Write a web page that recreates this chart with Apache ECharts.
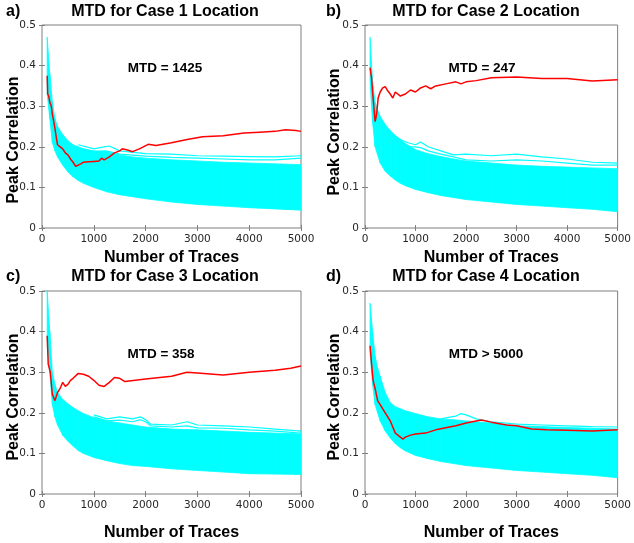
<!DOCTYPE html>
<html><head><meta charset="utf-8">
<script src="https://cdn.jsdelivr.net/npm/echarts@6/dist/echarts.min.js"></script>
<style>html,body{margin:0;padding:0;background:#fff}#c{width:634px;height:543px}</style>
</head><body><div id="c"></div>
<script>
// ---------- data ----------
const panelLetters = ['a)', 'b)', 'c)', 'd)'];
const panelTitles = ['MTD for Case 1 Location', 'MTD for Case 2 Location', 'MTD for Case 3 Location', 'MTD for Case 4 Location'];
const mtdLabels = ['MTD = 1425', 'MTD = 247', 'MTD = 358', 'MTD > 5000'];
const xAxisTitle = 'Number of Traces';
const yAxisTitle = 'Peak Correlation';
const xTicks = [0, 1000, 2000, 3000, 4000, 5000];
const yTicks = [0, 0.1, 0.2, 0.3, 0.4, 0.5];

// sample positions (number of traces) for the envelope of the wrong-key traces
const bandX = [100,150,200,250,300,400,500,600,700,800,1000,1250,1500,1750,2000,2500,3000,3500,4000,4500,5000];

// Panel a
const upperA = [0.47,0.38,0.31,0.27,0.25,0.23,0.215,0.205,0.2,0.195,0.19,0.188,0.18,0.175,0.172,0.168,0.165,0.162,0.160,0.158,0.156];
const lowerA = [0.33,0.27,0.21,0.19,0.175,0.155,0.138,0.126,0.117,0.11,0.10,0.089,0.082,0.077,0.072,0.064,0.058,0.054,0.050,0.047,0.044];
const outAX = [700,1000,1200,1300,1500,2000,2500,3000,3500,4000,4500,5000];
const outA1 = [0.205,0.195,0.2,0.202,0.19,0.183,0.182,0.178,0.177,0.176,0.175,0.178];
const outA2 = [0.195,0.188,0.19,0.188,0.182,0.177,0.174,0.172,0.17,0.168,0.168,0.172];
const redAX = [100,110,130,150,180,200,230,250,280,300,350,400,450,500,550,600,650,700,750,800,900,1000,1100,1150,1200,1300,1400,1500,1550,1650,1750,1900,2050,2200,2500,2800,3100,3500,3900,4200,4500,4700,4900,5000];
const redAY = [0.375,0.33,0.325,0.31,0.3,0.28,0.26,0.245,0.22,0.205,0.2,0.195,0.185,0.18,0.17,0.162,0.152,0.155,0.158,0.162,0.163,0.164,0.165,0.172,0.168,0.175,0.185,0.19,0.195,0.192,0.188,0.196,0.206,0.203,0.21,0.218,0.225,0.227,0.234,0.236,0.238,0.242,0.24,0.238];

// Panel b
const upperB = [0.47,0.36,0.31,0.29,0.275,0.255,0.24,0.228,0.218,0.208,0.193,0.183,0.176,0.17,0.165,0.16,0.155,0.152,0.15,0.148,0.146];
const lowerB = [0.36,0.26,0.20,0.18,0.16,0.14,0.128,0.118,0.11,0.104,0.095,0.087,0.08,0.075,0.07,0.064,0.058,0.054,0.05,0.046,0.04];
const outBX = [600,750,850,1000,1100,1250,1500,1750,2000,2500,3000,3500,4000,4500,5000];
const outB1 = [0.225,0.215,0.21,0.205,0.212,0.2,0.19,0.18,0.182,0.178,0.182,0.175,0.17,0.162,0.16];
const outB2 = [0.22,0.205,0.2,0.2,0.198,0.19,0.182,0.175,0.168,0.165,0.168,0.165,0.16,0.155,0.155];
const redBX = [100,130,160,200,230,260,300,350,400,450,500,550,600,700,800,900,1000,1100,1200,1300,1400,1600,1800,1900,2000,2200,2500,3000,3500,4000,4500,5000];
const redBY = [0.395,0.37,0.32,0.262,0.28,0.32,0.335,0.345,0.348,0.338,0.33,0.32,0.335,0.325,0.33,0.34,0.335,0.345,0.35,0.343,0.35,0.355,0.36,0.355,0.36,0.363,0.37,0.372,0.368,0.368,0.362,0.365];

// Panel c
const upperC = [0.5,0.40,0.30,0.27,0.25,0.233,0.222,0.213,0.205,0.198,0.188,0.18,0.175,0.17,0.165,0.16,0.158,0.155,0.152,0.15,0.148];
const lowerC = [0.38,0.30,0.22,0.19,0.17,0.145,0.13,0.118,0.107,0.1,0.09,0.082,0.075,0.07,0.068,0.062,0.058,0.054,0.05,0.049,0.048];
const outCX = [1000,1250,1500,1750,1900,2000,2100,2500,2800,3000,3500,4000,4500,5000];
const outC1 = [0.195,0.185,0.19,0.185,0.19,0.183,0.172,0.17,0.178,0.17,0.168,0.165,0.16,0.155];
const outC2 = [0.19,0.18,0.182,0.178,0.183,0.178,0.168,0.165,0.168,0.163,0.162,0.158,0.155,0.15];
const redCX = [100,120,160,200,250,300,350,400,450,500,550,600,700,800,900,1000,1100,1200,1300,1400,1500,1600,1800,2000,2500,2800,3000,3500,4000,4500,4800,5000];
const redCY = [0.39,0.32,0.3,0.245,0.23,0.25,0.26,0.275,0.265,0.27,0.28,0.285,0.297,0.295,0.29,0.28,0.268,0.265,0.275,0.287,0.285,0.277,0.28,0.283,0.29,0.3,0.298,0.293,0.3,0.305,0.31,0.315];

// Panel d
const upperD = [0.47,0.40,0.34,0.31,0.29,0.25,0.225,0.215,0.21,0.205,0.198,0.19,0.185,0.183,0.18,0.175,0.168,0.166,0.164,0.162,0.16];
const lowerD = [0.35,0.27,0.22,0.20,0.18,0.155,0.138,0.124,0.114,0.106,0.095,0.087,0.08,0.075,0.07,0.064,0.058,0.054,0.05,0.046,0.04];
const outDX = [1500,1700,1800,1900,2000,2100,2200,2500,3000,3500,4000,4500,5000];
const outD1 = [0.185,0.19,0.192,0.198,0.195,0.19,0.185,0.178,0.172,0.17,0.168,0.166,0.165];
const redDX = [100,130,160,200,250,300,400,500,600,700,750,800,900,1000,1200,1400,1600,1800,2000,2300,2500,2800,3000,3300,3600,4000,4500,5000];
const redDY = [0.365,0.32,0.28,0.26,0.23,0.22,0.2,0.18,0.15,0.14,0.135,0.14,0.145,0.148,0.15,0.158,0.163,0.168,0.175,0.182,0.177,0.17,0.168,0.16,0.158,0.157,0.155,0.158];

// ---------- chart ----------
const panels = [
  {upper: upperA, lower: lowerA, outX: outAX, outs: [outA1, outA2], redX: redAX, redY: redAY},
  {upper: upperB, lower: lowerB, outX: outBX, outs: [outB1, outB2], redX: redBX, redY: redBY},
  {upper: upperC, lower: lowerC, outX: outCX, outs: [outC1, outC2], redX: redCX, redY: redCY},
  {upper: upperD, lower: lowerD, outX: outDX, outs: [outD1], redX: redDX, redY: redDY}
];
const grids = [
  {left: 42, top: 25, width: 259, height: 203},
  {left: 365, top: 25, width: 257, height: 203},
  {left: 42, top: 291, width: 259, height: 203},
  {left: 365, top: 291, width: 257, height: 203}
];
const xNameGap = [22, 22, 31, 31];
const yNamePos = [[14, 140], [335, 132], [14, 397], [335, 397]];
const boxColor = '#7f7f7f';
const CYAN = '#00ffff';
const labFont = {fontFamily: 'DejaVu Sans', fontSize: 10.5, color: '#262626', fontWeight: 'normal'};
const nameFont = {fontFamily: 'Liberation Sans', fontSize: 16, fontWeight: 'bold', color: '#000'};

function bandItem(params, api) {
  const p0l = api.coord([api.value(0), api.value(1)]);
  const p0u = api.coord([api.value(0), api.value(2)]);
  const p1l = api.coord([api.value(3), api.value(4)]);
  const p1u = api.coord([api.value(3), api.value(5)]);
  return {type: 'polygon', shape: {points: [p0l, p0u, p1u, p1l]},
    style: {fill: CYAN, stroke: CYAN, lineWidth: 0.8}};
}

const option = {animation: false, backgroundColor: '#fff', grid: [], xAxis: [], yAxis: [], series: [], graphic: []};
grids.forEach((g, i) => {
  option.grid.push(Object.assign({show: true, borderColor: boxColor, borderWidth: 1, backgroundColor: '#fff'}, g));
  const ax = {type: 'value', gridIndex: i, min: xTicks[0], max: xTicks[xTicks.length - 1], interval: 1000,
    splitLine: {show: false}, axisLine: {show: false},
    axisTick: {show: true, inside: true, length: 3, lineStyle: {color: boxColor}}};
  const ay = {type: 'value', gridIndex: i, min: yTicks[0], max: yTicks[yTicks.length - 1], interval: 0.1,
    splitLine: {show: false}, axisLine: {show: false},
    axisTick: {show: true, inside: true, length: 3, lineStyle: {color: boxColor}}};
  option.xAxis.push(Object.assign({}, ax, {position: 'bottom',
    axisLabel: Object.assign({margin: 6, formatter: v => String(v)}, labFont),
    name: xAxisTitle, nameLocation: 'middle', nameGap: xNameGap[i], nameTextStyle: nameFont}));
  option.xAxis.push(Object.assign({}, ax, {position: 'top', axisLabel: {show: false}}));
  option.yAxis.push(Object.assign({}, ay, {position: 'left',
    axisLabel: Object.assign({margin: 6, formatter: v => String(Math.round(v * 10) / 10)}, labFont)}));
  option.yAxis.push(Object.assign({}, ay, {position: 'right', axisLabel: {show: false}}));
  const xi = i * 2, yi = i * 2;
  const p = panels[i];
  const segs = [];
  for (let k = 0; k < bandX.length - 1; k++) {
    segs.push([bandX[k], p.lower[k], p.upper[k], bandX[k + 1], p.lower[k + 1], p.upper[k + 1]]);
  }
  option.series.push({type: 'custom', xAxisIndex: xi, yAxisIndex: yi, silent: true, clip: true,
    renderItem: bandItem, encode: {x: [0, 3], y: [1, 2, 4, 5]}, data: segs});
  p.outs.forEach(o => option.series.push({type: 'line', xAxisIndex: xi, yAxisIndex: yi, symbol: 'none', silent: true,
    lineStyle: {color: CYAN, width: 1.2}, data: p.outX.map((x, k) => [x, o[k]])}));
  option.series.push({type: 'line', xAxisIndex: xi, yAxisIndex: yi, symbol: 'none', silent: true, z: 5,
    lineStyle: {color: '#ff0000', width: 1.5}, data: p.redX.map((x, k) => [x, p.redY[k]])});
});

const titleCenters = [[165, 12], [486, 12], [165, 277], [486, 277]];
const letterPos = [[6, 12], [326, 12], [6, 277], [326, 277]];
const mtdPos = [[165, 68], [482, 68], [161, 354], [486, 354]];
for (let i = 0; i < 4; i++) {
  option.graphic.push({type: 'text', x: titleCenters[i][0], y: titleCenters[i][1], z: 10,
    style: {text: panelTitles[i], font: 'bold 16px "Liberation Sans"', fill: '#000', textAlign: 'center', textVerticalAlign: 'middle'}});
  option.graphic.push({type: 'text', x: letterPos[i][0], y: letterPos[i][1], z: 10,
    style: {text: panelLetters[i], font: 'bold 16px "Liberation Sans"', fill: '#000', textAlign: 'left', textVerticalAlign: 'middle'}});
  option.graphic.push({type: 'text', x: mtdPos[i][0], y: mtdPos[i][1], z: 10,
    style: {text: mtdLabels[i], font: 'bold 13.5px "Liberation Sans"', fill: '#000', textAlign: 'center', textVerticalAlign: 'middle'}});
  option.graphic.push({type: 'text', x: yNamePos[i][0], y: yNamePos[i][1], rotation: Math.PI / 2, z: 10,
    style: {text: yAxisTitle, font: 'bold 16px "Liberation Sans"', fill: '#000', textAlign: 'center', textVerticalAlign: 'middle'}});
}

const chart = echarts.init(document.getElementById('c'), null, {renderer: 'canvas'});
chart.setOption(option);
</script></body></html>
